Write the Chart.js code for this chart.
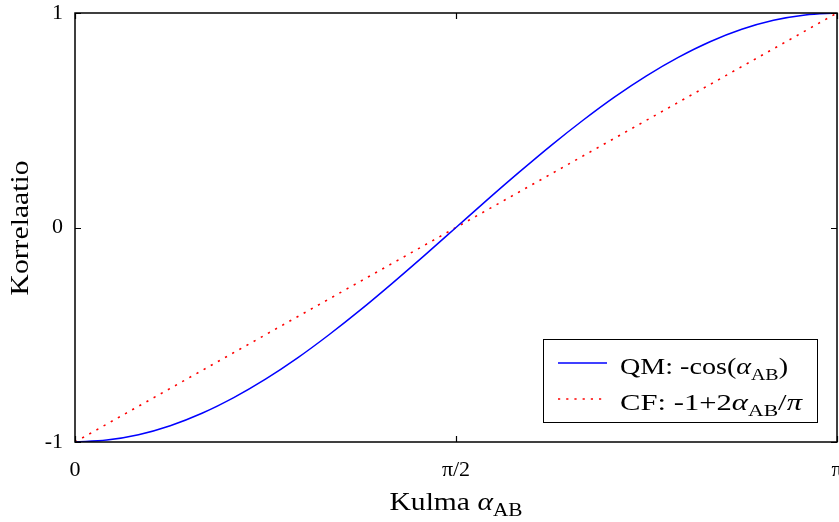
<!DOCTYPE html>
<html>
<head>
<meta charset="utf-8">
<script src="https://cdn.jsdelivr.net/npm/chart.js@4.4.1/dist/chart.umd.min.js"></script>
<style>
  html, body { margin: 0; padding: 0; background: #fff; }
  canvas { display: block; }
</style>
</head>
<body>
<canvas id="c" width="839" height="522"></canvas>
<script>
// ---- data ----
const angles = [0, 0.1309, 0.2618, 0.3927, 0.5236, 0.6545, 0.7854, 0.9163, 1.0472, 1.1781, 1.3090, 1.4399, 1.5708,
                1.7017, 1.8326, 1.9635, 2.0944, 2.2253, 2.3562, 2.4871, 2.6180, 2.7489, 2.8798, 3.0107, 3.1416];
const qmValues = [-1, -0.991, -0.966, -0.924, -0.866, -0.793, -0.707, -0.609, -0.5, -0.383, -0.259, -0.131, 0,
                  0.131, 0.259, 0.383, 0.5, 0.609, 0.707, 0.793, 0.866, 0.924, 0.966, 0.991, 1];
const cfAngles = [0, 3.1416];
const cfValues = [-1, 1];
const xTickValues = [0, 1.5708, 3.1416];
const xTickLabels = ['0', 'π/2', 'π'];
const yTickValues = [-1, 0, 1];
const yTickLabels = ['-1', '0', '1'];

const FONT = '"Liberation Serif", "DejaVu Serif", serif';

function drawRich(ctx, parts, x, y, size, targetW, align) {
  const fontFor = (st) => {
    if (st === 'i') return 'italic ' + size + 'px ' + FONT;
    if (st === 's') return Math.round(size * 0.7) + 'px ' + FONT;
    return size + 'px ' + FONT;
  };
  let w = 0;
  for (const [t, st] of parts) { ctx.font = fontFor(st); w += ctx.measureText(t).width; }
  const sx = targetW ? targetW / w : 1;
  ctx.save();
  ctx.translate(x, y);
  ctx.scale(sx, 1);
  let cx = align === 'center' ? -w / 2 : 0;
  ctx.textBaseline = 'alphabetic';
  ctx.textAlign = 'left';
  ctx.fillStyle = '#000';
  for (const [t, st] of parts) {
    ctx.font = fontFor(st);
    ctx.fillText(t, cx, st === 's' ? size * 0.24 : 0);
    cx += ctx.measureText(t).width;
  }
  ctx.restore();
}

const decor = {
  id: 'decor',
  afterDatasetsDraw(chart) {
    const ctx = chart.ctx;
    const a = chart.chartArea;
    const xs = chart.scales.x, ys = chart.scales.y;
    ctx.save();
    // frame
    ctx.strokeStyle = '#000';
    ctx.lineWidth = 1.5;
    ctx.strokeRect(a.left, a.top, a.right - a.left, a.bottom - a.top);
    // inward ticks
    ctx.lineWidth = 1.2;
    const tl = 6;
    ctx.beginPath();
    for (const v of xTickValues) {
      const px = Math.round(xs.getPixelForValue(v)) + 0.5;
      ctx.moveTo(px, a.bottom); ctx.lineTo(px, a.bottom - tl);
      ctx.moveTo(px, a.top); ctx.lineTo(px, a.top + tl);
    }
    for (const v of yTickValues) {
      const py = Math.round(ys.getPixelForValue(v)) + 0.5;
      ctx.moveTo(a.left, py); ctx.lineTo(a.left + tl, py);
      ctx.moveTo(a.right, py); ctx.lineTo(a.right - tl, py);
    }
    ctx.stroke();

    // legend
    const lx = 543, ly = 339, lw = 274, lh = 83;
    ctx.fillStyle = '#fff';
    ctx.fillRect(lx, ly, lw, lh);
    ctx.strokeStyle = '#000';
    ctx.lineWidth = 1;
    ctx.strokeRect(lx + 0.5, ly + 0.5, lw, lh);
    const ds = chart.data.datasets;
    ctx.strokeStyle = ds[0].borderColor;
    ctx.lineWidth = ds[0].borderWidth;
    ctx.setLineDash([]);
    ctx.beginPath(); ctx.moveTo(558, 363); ctx.lineTo(607, 363); ctx.stroke();
    ctx.strokeStyle = ds[1].borderColor;
    ctx.lineWidth = ds[1].borderWidth;
    ctx.setLineDash(ds[1].borderDash);
    ctx.beginPath(); ctx.moveTo(558, 399); ctx.lineTo(607, 399); ctx.stroke();
    ctx.setLineDash([]);
    drawRich(ctx, [['QM: -cos(', 'n'], ['α', 'i'], ['AB', 's'], [')', 'n']], 620, 374, 24, 168, 'left');
    drawRich(ctx, [['CF: -1+2', 'n'], ['α', 'i'], ['AB', 's'], ['/', 'n'], ['π', 'i']], 620, 410, 24, 182, 'left');

    // axis titles
    drawRich(ctx, [['Kulma ', 'n'], ['α', 'i'], ['AB', 's']], 456, 510, 25, 133, 'center');
    ctx.save();
    ctx.translate(28, 228);
    ctx.rotate(-Math.PI / 2);
    drawRich(ctx, [['Korrelaatio', 'n']], 0, 0, 25, 135, 'center');
    ctx.restore();
    ctx.restore();
  }
};

new Chart(document.getElementById('c'), {
  type: 'line',
  data: {
    datasets: [
      {
        label: 'QM',
        data: angles.map((x, i) => ({ x: x, y: qmValues[i] })),
        borderColor: '#0000ff',
        borderWidth: 1.5,
        pointRadius: 0,
        cubicInterpolationMode: 'monotone',
        fill: false
      },
      {
        label: 'CF',
        data: cfAngles.map((x, i) => ({ x: x, y: cfValues[i] })),
        borderColor: '#ff0000',
        borderWidth: 1.6,
        borderDash: [2.2, 6],
        pointRadius: 0,
        fill: false
      }
    ]
  },
  options: {
    responsive: false,
    devicePixelRatio: 1,
    animation: false,
    layout: { padding: { top: 13, left: 0, right: 2, bottom: 0 } },
    plugins: { legend: { display: false }, tooltip: { enabled: false } },
    scales: {
      x: {
        type: 'linear',
        min: 0,
        max: 3.1416,
        grid: { display: false },
        border: { display: false },
        afterBuildTicks: (s) => { s.ticks = xTickValues.map(v => ({ value: v })); },
        afterFit: (s) => { s.height = 80; s.paddingLeft = 0; s.paddingRight = 0; },
        ticks: {
          autoSkip: false,
          maxRotation: 0,
          padding: 7,
          color: '#000',
          font: { family: FONT, size: 22 },
          callback: (v, i) => xTickLabels[i]
        }
      },
      y: {
        type: 'linear',
        min: -1,
        max: 1,
        grid: { display: false },
        border: { display: false },
        afterBuildTicks: (s) => { s.ticks = yTickValues.map(v => ({ value: v })); },
        afterFit: (s) => { s.width = 75; s.paddingTop = 0; s.paddingBottom = 0; },
        ticks: {
          autoSkip: false,
          padding: 4,
          color: '#000',
          font: { family: FONT, size: 22 },
          callback: (v, i) => yTickLabels[i]
        }
      }
    }
  },
  plugins: [decor]
});
</script>
</body>
</html>
